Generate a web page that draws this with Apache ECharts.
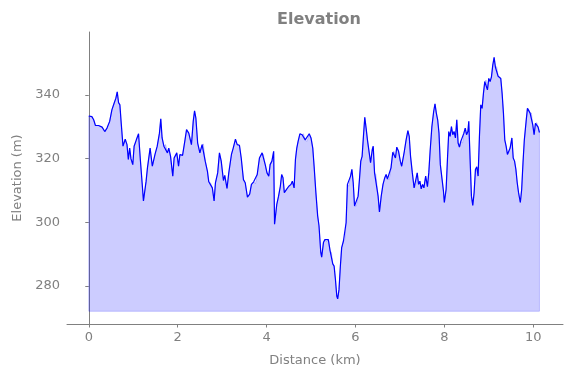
<!DOCTYPE html>
<html lang="en">
<head>
    <meta charset="UTF-8">
    <title>Elevation</title>
    <script src="https://cdn.jsdelivr.net/npm/echarts@6/dist/echarts.min.js"></script>
    <style>
      body { margin: 0; background: #fff; }
    </style>
</head>
<body>
    <div id="main" style="width: 571px; height: 378px"></div>
    <script type="text/javascript">

      // distance along the track (km) and elevation (m)
      const distance = [
        0, 0.07, 0.11, 0.15, 0.22, 0.30, 0.36, 0.41, 0.47, 0.52, 0.57, 0.61, 0.64, 0.67, 0.70, 0.73,
        0.77, 0.82, 0.86, 0.89, 0.92, 0.95, 0.99, 1.02, 1.07, 1.12, 1.16, 1.20, 1.23, 1.29, 1.32, 1.38,
        1.43, 1.49, 1.54, 1.59, 1.62, 1.65, 1.69, 1.73, 1.77, 1.80, 1.84, 1.89, 1.92, 1.98, 2.02, 2.05,
        2.11, 2.16, 2.20, 2.25, 2.31, 2.35, 2.38, 2.41, 2.45, 2.50, 2.55, 2.58, 2.62, 2.67, 2.70, 2.74,
        2.78, 2.82, 2.85, 2.90, 2.94, 2.98, 3.03, 3.06, 3.11, 3.15, 3.21, 3.25, 3.30, 3.34, 3.39, 3.43,
        3.48, 3.52, 3.57, 3.62, 3.66, 3.71, 3.75, 3.79, 3.84, 3.90, 3.93, 3.97, 4.01, 4.05, 4.08, 4.12,
        4.16, 4.18, 4.23, 4.27, 4.31, 4.34, 4.37, 4.40, 4.45, 4.50, 4.55, 4.58, 4.62, 4.65, 4.68, 4.71,
        4.75, 4.80, 4.83, 4.87, 4.91, 4.96, 5.00, 5.04, 5.07, 5.11, 5.15, 5.18, 5.22, 5.24, 5.28, 5.31,
        5.35, 5.39, 5.43, 5.46, 5.49, 5.52, 5.55, 5.58, 5.60, 5.63, 5.66, 5.69, 5.73, 5.76, 5.79, 5.82,
        5.85, 5.89, 5.92, 5.95, 5.98, 6.02, 6.06, 6.09, 6.12, 6.15, 6.18, 6.21, 6.24, 6.27, 6.31, 6.34,
        6.38, 6.40, 6.43, 6.46, 6.51, 6.54, 6.58, 6.62, 6.66, 6.69, 6.72, 6.76, 6.80, 6.84, 6.87, 6.90,
        6.93, 6.97, 7.01, 7.04, 7.08, 7.10, 7.14, 7.18, 7.21, 7.24, 7.28, 7.32, 7.35, 7.39, 7.42, 7.45,
        7.48, 7.51, 7.54, 7.58, 7.62, 7.65, 7.68, 7.72, 7.76, 7.79, 7.82, 7.85, 7.88, 7.91, 7.95, 7.98,
        8.00, 8.04, 8.07, 8.10, 8.13, 8.16, 8.19, 8.22, 8.25, 8.28, 8.31, 8.34, 8.37, 8.41, 8.44, 8.47,
        8.50, 8.53, 8.55, 8.58, 8.61, 8.64, 8.67, 8.70, 8.73, 8.76, 8.79, 8.82, 8.85, 8.88, 8.91, 8.94,
        8.97, 9.00, 9.03, 9.06, 9.09, 9.12, 9.15, 9.18, 9.21, 9.24, 9.27, 9.30, 9.33, 9.36, 9.39, 9.42,
        9.45, 9.48, 9.52, 9.55, 9.58, 9.61, 9.64, 9.67, 9.71, 9.74, 9.77, 9.80, 9.84, 9.87, 9.90, 9.93,
        9.96, 9.99, 10.02, 10.05, 10.08, 10.11, 10.14
      ];
      const elevation = [
        333.4, 333.2, 332.2, 330.4, 330.4, 329.9, 328.5, 329.6, 331.7, 335.3, 337.4, 339.0, 341.0, 337.6, 336.9, 331.1,
        323.9, 326.1, 324.4, 319.7, 323.3, 319.9, 318.1, 323.9, 325.9, 327.8, 319.7, 312.4, 306.7, 312.9, 317.1, 323.3,
        317.6, 321.3, 323.9, 328.0, 332.5, 326.5, 323.9, 324.4, 321.8, 323.3, 320.7, 314.5, 320.2, 321.8, 317.6, 321.3,
        321.0, 325.4, 329.1, 328.0, 324.4, 331.7, 335.0, 332.7, 324.9, 321.8, 324.4, 324.6, 319.2, 316.0, 312.7, 312.4,
        310.8, 306.7, 312.4, 315.5, 321.8, 319.2, 313.1, 314.7, 310.6, 315.5, 321.3, 323.3, 326.1, 324.4, 324.2, 320.2,
        313.4, 312.4, 307.9, 308.8, 311.9, 312.7, 312.1, 315.0, 320.2, 321.8, 321.3, 318.1, 315.5, 314.5, 318.1, 319.2,
        322.3, 299.4, 305.6, 308.2, 311.3, 315.0, 314.0, 309.3, 310.3, 311.3, 311.9, 312.9, 310.8, 319.7, 323.3, 325.4,
        327.8, 327.5, 327.8, 325.9, 325.4, 327.8, 326.5, 323.3, 317.6, 309.3, 302.0, 298.9, 290.5, 289.0, 293.6, 294.5,
        293.9, 294.5, 291.0, 290.5, 286.9, 286.2, 282.0, 276.8, 275.9, 278.8, 286.0, 292.0, 294.1, 294.6, 299.9, 311.9,
        311.3, 314.5, 316.6, 312.4, 305.1, 305.1, 308.2, 313.4, 319.2, 320.7, 327.0, 333.0, 329.6, 325.9, 321.8, 318.7,
        323.0, 323.9, 315.5, 315.0, 308.2, 303.2, 308.2, 311.9, 314.0, 315.0, 313.6, 313.4, 317.1, 322.0, 322.3, 320.2,
        323.6, 322.3, 319.2, 317.6, 320.7, 322.3, 325.9, 328.8, 327.0, 320.7, 315.5, 310.8, 311.3, 315.5, 311.9, 312.9,
        310.5, 311.9, 310.8, 314.5, 311.2, 315.5, 322.3, 330.1, 334.8, 337.2, 334.3, 332.2, 328.0, 318.1, 313.4, 309.8,
        306.2, 310.3, 319.7, 328.5, 327.0, 330.1, 327.5, 328.5, 326.5, 332.2, 324.9, 323.6, 325.4, 324.9, 328.0, 329.6,
        327.5, 328.5, 331.7, 319.7, 308.2, 305.3, 309.3, 316.6, 317.4, 314.5, 327.0, 336.9, 335.8, 340.5, 344.2, 344.7,
        341.6, 345.2, 344.2, 345.7, 349.4, 351.8, 348.7, 348.9, 345.9, 345.7, 345.2, 340.5, 334.3, 325.9, 323.9, 321.3,
        321.8, 323.3, 326.5, 320.2, 319.2, 316.6, 312.4, 309.3, 306.2, 310.3, 318.7, 325.9, 331.7, 335.8, 335.5, 334.3,
        334.3, 330.6, 327.5, 331.1, 331.3, 329.9, 328.2
      ];
      const xTicks = [0, 2, 4, 6, 8, 10];
      const yTicks = [280, 300, 320, 340];
      const baseline = 272;

      const points = distance.map((d, i) => [d, elevation[i]]);

      const gray = "#808080";
      const labelFont = { color: gray, fontSize: 13, fontFamily: "DejaVu Sans" };

      let myChart = echarts.init(document.getElementById("main"));

      let options = {
        animation: false,
        title: {
          text: "Elevation",
          left: 314,
          top: 7,
          textAlign: "center",
          textStyle: { color: gray, fontSize: 16, fontWeight: "bold", fontFamily: "DejaVu Sans" }
        },
        grid: { left: 67, right: 8, top: 32, bottom: 54 },
        xAxis: {
          type: "value",
          min: -0.49,
          max: 10.67,
          name: "Distance (km)",
          nameLocation: "middle",
          nameGap: 30,
          nameTextStyle: labelFont,
          axisLine: { lineStyle: { color: gray, width: 1 } },
          axisTick: { length: 3.5, lineStyle: { color: gray }, customValues: xTicks },
          axisLabel: Object.assign({ margin: 7, customValues: xTicks }, labelFont),
          splitLine: { show: false }
        },
        yAxis: {
          type: "value",
          min: 268,
          max: 359.8,
          name: "Elevation (m)",
          nameLocation: "middle",
          nameGap: 43,
          nameTextStyle: labelFont,
          axisLine: { show: true, lineStyle: { color: gray, width: 1 } },
          axisTick: { show: true, length: 3.5, lineStyle: { color: gray }, customValues: yTicks },
          axisLabel: Object.assign({ margin: 7, customValues: yTicks }, labelFont),
          splitLine: { show: false }
        },
        series: [
          {
            // filled area down to the baseline, like fill_between
            type: "custom",
            silent: true,
            data: [[distance[0], baseline]],
            renderItem: function (params, api) {
              const poly = [[distance[0], baseline]]
                .concat(points)
                .concat([[distance[distance.length - 1], baseline]])
                .map((p) => api.coord(p));
              return {
                type: "polygon",
                shape: { points: poly },
                style: { fill: "rgba(0,0,255,0.2)", stroke: "rgba(0,0,255,0.2)", lineWidth: 1 }
              };
            }
          },
          {
            name: "Elevation",
            type: "line",
            data: points,
            showSymbol: false,
            silent: true,
            lineStyle: { color: "#0000ff", width: 1.2 }
          }
        ]
      };

      myChart.setOption(options);
    </script>
</body>
</html>
